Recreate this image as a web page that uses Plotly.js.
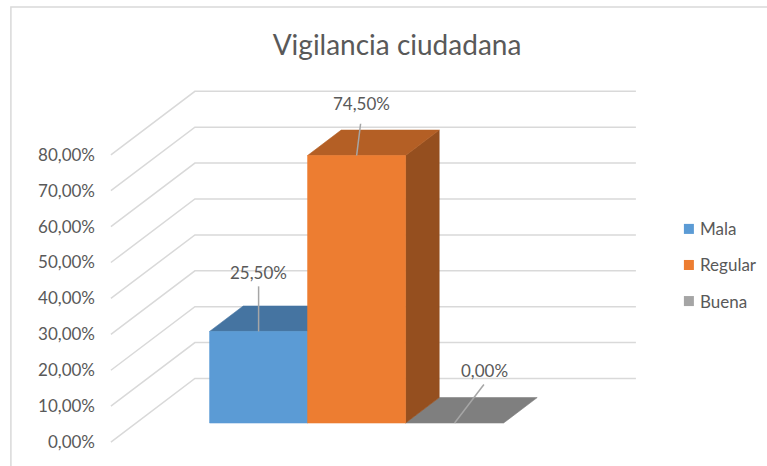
<!DOCTYPE html>
<html>
<head>
<meta charset="utf-8">
<script src="https://cdn.plot.ly/plotly-3.0.1.min.js"></script>
<style>html,body{margin:0;padding:0;background:#fff;}#chart{width:767px;height:466px;}</style>
</head>
<body>
<div id="chart"></div>
<script>
// ---- data ----
const categories = ['Mala', 'Regular', 'Buena'];
const values = [0.255, 0.745, 0.0];
const tickVals = [0, 0.1, 0.2, 0.3, 0.4, 0.5, 0.6, 0.7, 0.8];
const chartTitle = 'Vigilancia ciudadana';

// ---- styles ----
const frontColors = ['#5B9BD5', '#ED7D31', '#A5A5A5'];
const topColors = ['#4574A1', '#B45F25', '#7F7F7F'];
const sideColors = ['#3A6690', '#954F1F', '#6E6E6E'];
const labelShift = [[0, 59], [4.7, 52.5], [29.7, 52.2]];   // px offset of label from bar top-front centre
const leaderTop = [[0, 45], [4, 31.7], [29.3, 38.4]];      // px offset of leader line top end
const textColor = '#595959';
const gridColor = '#D9D9D9';
const FONT = 'Lato, "Open Sans", sans-serif';

// ---- geometry (oblique projection of the 3-D box) ----
const W = 767, H = 466;
const PXU = 98;      // px per category unit
const PYU = 358.3;   // px per value unit
const KX = 84 / PXU; // x shift per unit depth
const KY = 63.4 / PYU; // y shift per unit depth
const Z1 = 0.3, Z2 = 0.7; // bar depth span
const WX0 = -0.75, WX1 = 3.75; // wall x extent
const XR = [-0.8, 4.7], YR = [-0.05, 1.0];
const ORIGIN_PX = 111, ORIGIN_PY = 441.7; // pixel position of (x=-0.75, v=0, z=0)
const ML = ORIGIN_PX + (XR[0] - WX0) * PXU;
const PW = (XR[1] - XR[0]) * PXU;
const MR = W - ML - PW;
const MB = H - (ORIGIN_PY - YR[0] * PYU);
const PH = (YR[1] - YR[0]) * PYU;
const MT = H - MB - PH;

function proj(x, v, z) { return [x + KX * z, v + KY * z]; }
function poly(pts) { const xs = [], ys = []; pts.forEach(p => { xs.push(p[0]); ys.push(p[1]); }); xs.push(pts[0][0]); ys.push(pts[0][1]); return {x: xs, y: ys}; }
function face(pts, color) {
  const p = poly(pts);
  return {type: 'scatter', mode: 'lines', x: p.x, y: p.y, fill: 'toself', fillcolor: color,
          line: {color: color, width: 0.6}, hoverinfo: 'skip', showlegend: false};
}
const paperX = px => (px - ML) / PW;
const paperY = py => (H - MB - py) / PH;
const fmt = v => (v * 100).toFixed(2).replace('.', ',') + '%';

const traces = [];
// grid lines: side wall diagonals + back wall horizontals
const gx = [], gy = [];
tickVals.forEach(v => {
  [proj(WX0, v, 0), proj(WX0, v, 1), proj(WX1, v, 1)].forEach(p => { gx.push(p[0]); gy.push(p[1]); });
  gx.push(null); gy.push(null);
});
traces.push({type: 'scatter', mode: 'lines', x: gx, y: gy, line: {color: gridColor, width: 1.5},
             hoverinfo: 'skip', showlegend: false, connectgaps: false});

// bars, drawn from the back-right so nearer faces cover farther ones
const order = [2, 0, 1];
order.forEach(i => {
  const v = values[i];
  if (v > 0) {
    traces.push(face([proj(i + 1, 0, Z1), proj(i + 1, v, Z1), proj(i + 1, v, Z2), proj(i + 1, 0, Z2)], sideColors[i]));
  }
  traces.push(face([proj(i, v, Z1), proj(i + 1, v, Z1), proj(i + 1, v, Z2), proj(i, v, Z2)], topColors[i]));
  if (v > 0) {
    traces.push(face([proj(i, 0, Z1), proj(i + 1, 0, Z1), proj(i + 1, v, Z1), proj(i, v, Z1)], frontColors[i]));
  }
});

// leader lines and labels
const annotations = [];
values.forEach((v, i) => {
  const t = proj(i + 0.5, v, Z1);
  traces.push({type: 'scatter', mode: 'lines',
               x: [t[0], t[0] + leaderTop[i][0] / PXU], y: [t[1], t[1] + leaderTop[i][1] / PYU],
               line: {color: '#A6A6A6', width: 1.5}, hoverinfo: 'skip', showlegend: false});
  annotations.push({xref: 'x', yref: 'y', x: t[0], y: t[1], xshift: labelShift[i][0], yshift: labelShift[i][1],
                    text: fmt(v), showarrow: false, xanchor: 'center', yanchor: 'middle',
                    font: {family: FONT, size: 17, color: textColor}});
});

// manual legend
const shapes = [];
categories.forEach((c, i) => {
  const cy = 229 + 36 * i;
  shapes.push({type: 'rect', xref: 'paper', yref: 'paper', x0: paperX(684), x1: paperX(694),
               y0: paperY(cy + 5), y1: paperY(cy - 5), fillcolor: frontColors[i], line: {width: 0}});
  annotations.push({xref: 'paper', yref: 'paper', x: paperX(698), y: paperY(cy), text: c, showarrow: false,
                    xanchor: 'left', yanchor: 'middle', font: {family: FONT, size: 17, color: textColor}});
});
// chart border
shapes.push({type: 'rect', xref: 'paper', yref: 'paper', x0: paperX(11), x1: paperX(800), y0: paperY(500), y1: paperY(7.5),
             line: {color: '#D9D9D9', width: 1.5}, fillcolor: 'rgba(0,0,0,0)', layer: 'below'});

const layout = {
  width: W, height: H, autosize: false,
  margin: {l: ML, r: MR, t: MT, b: MB, pad: 0},
  paper_bgcolor: '#fff', plot_bgcolor: 'rgba(0,0,0,0)',
  separators: ',.',
  title: {text: chartTitle, x: 397 / W, xanchor: 'center', xref: 'container', y: 1 - 45 / H, yref: 'container', yanchor: 'middle',
          font: {family: FONT, size: 28, color: textColor}},
  xaxis: {range: XR, visible: false, fixedrange: true},
  yaxis: {range: YR, showgrid: false, zeroline: false, showline: false, ticks: '',
          tickvals: tickVals, tickformat: '.2%', ticklabelstandoff: 10,
          tickfont: {family: FONT, size: 17, color: textColor}, fixedrange: true},
  showlegend: false,
  shapes: shapes,
  annotations: annotations
};
Plotly.newPlot('chart', traces, layout, {staticPlot: true, displayModeBar: false});
</script>
</body>
</html>
